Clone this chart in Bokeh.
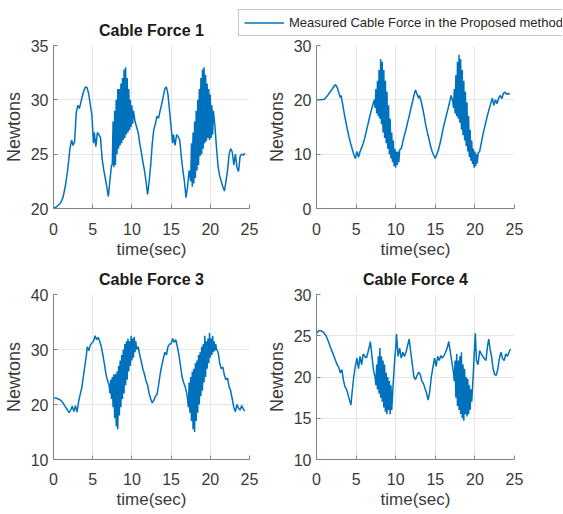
from bokeh.plotting import figure
from bokeh.layouts import row, column
from bokeh.models import Range1d, Legend, LegendItem, FixedTicker
from bokeh.embed import file_html
from bokeh.resources import INLINE

# ---------------- data (time [s], force [N]) ----------------
cable_force_1 = [
    (0, 20.1), (0.3, 20.1), (0.6, 20.3), (0.9, 20.5), (1.2, 21.0), (1.5, 22.0), (1.8, 23.5), (2.1, 25.5), (2.3, 26.3), (2.5, 25.8),
    (2.7, 26.2), (2.9, 28.8), (3.1, 29.5), (3.3, 29.2), (3.5, 29.8), (3.7, 30.4), (3.9, 30.9), (4.1, 31.2), (4.3, 31.1), (4.5, 30.5),
    (4.7, 29.5), (4.9, 28.6), (5.1, 26.0), (5.2, 27.0), (5.4, 25.7), (5.6, 27.0), (5.8, 26.8), (6.0, 26.5), (6.2, 24.6), (6.4, 23.6),
    (6.6, 22.8), (6.8, 22.0), (7.0, 21.1), (7.2, 22.6), (7.4, 24.0),
    (7.5, 24.0), (7.6, 28.0), (7.7, 23.8), (7.8, 29.0), (7.9, 24.0), (8.0, 30.0), (8.1, 25.0), (8.2, 31.0), (8.3, 25.5), (8.4, 31.0),
    (8.5, 25.8), (8.6, 31.5), (8.7, 26.0), (8.8, 32.0), (8.9, 26.3), (9.0, 32.8), (9.1, 26.5), (9.2, 33.0), (9.3, 26.8), (9.4, 32.0),
    (9.5, 27.0), (9.6, 31.0), (9.7, 27.2), (9.8, 30.0), (9.9, 27.5), (10.0, 29.5), (10.1, 27.8), (10.2, 29.0),
    (10.4, 28.0), (10.6, 27.5), (10.8, 27.0), (11.0, 26.0), (11.2, 25.2), (11.4, 24.3), (11.6, 23.5), (11.8, 22.5), (12.0, 21.3), (12.2, 22.5),
    (12.4, 24.0), (12.6, 26.0), (12.8, 27.3), (13.0, 27.8), (13.2, 28.5), (13.4, 28.3), (13.6, 29.0), (13.8, 29.6), (14.0, 30.3), (14.2, 31.0),
    (14.4, 31.2), (14.6, 30.5), (14.8, 29.0), (15.0, 27.5), (15.2, 26.0), (15.3, 26.8), (15.5, 25.8), (15.7, 26.8), (15.9, 26.6), (16.1, 26.3),
    (16.3, 24.8), (16.5, 23.5), (16.7, 22.5), (16.9, 21.0), (17.1, 22.0), (17.3, 23.5),
    (17.5, 22.5), (17.6, 26.0), (17.7, 22.0), (17.8, 27.0), (17.9, 22.3), (18.0, 28.0), (18.1, 22.8), (18.2, 29.0), (18.3, 23.5), (18.4, 30.0),
    (18.5, 24.0), (18.6, 31.0), (18.7, 24.8), (18.8, 32.0), (18.9, 25.0), (19.0, 32.8), (19.1, 25.5), (19.2, 33.0), (19.3, 26.0), (19.4, 32.3),
    (19.5, 26.2), (19.6, 31.5), (19.7, 26.5), (19.8, 31.0), (19.9, 26.3), (20.0, 30.5), (20.1, 26.5), (20.2, 29.5), (20.3, 26.8), (20.4, 29.0),
    (20.6, 27.5), (20.8, 25.5), (21.0, 23.8), (21.2, 23.0), (21.4, 22.5), (21.6, 22.0), (21.8, 21.6), (22.0, 22.5), (22.2, 23.5), (22.4, 25.0),
    (22.6, 25.5), (22.8, 25.2), (23.0, 24.0), (23.2, 25.0), (23.4, 23.8), (23.6, 23.4), (23.8, 24.8), (24.0, 25.0), (24.2, 24.9), (24.4, 25.1),
]

cable_force_2 = [
    (0, 20.0), (0.5, 20.0), (1.0, 20.1), (1.3, 20.6), (1.6, 21.2), (1.9, 21.8), (2.2, 22.5), (2.4, 22.8), (2.6, 22.3), (2.8, 21.4),
    (3.0, 20.4), (3.1, 20.8), (3.3, 19.2), (3.5, 17.5), (3.7, 16.0), (3.9, 14.5), (4.1, 13.2), (4.3, 12.0), (4.5, 11.0), (4.7, 10.0),
    (4.9, 9.2), (5.1, 10.5), (5.3, 9.4), (5.5, 10.5), (5.7, 11.2), (5.9, 12.0), (6.1, 13.0), (6.3, 14.3), (6.5, 15.5), (6.7, 16.8),
    (6.9, 18.0), (7.1, 19.0), (7.3, 20.0),
    (7.4, 18.5), (7.5, 22.0), (7.6, 17.5), (7.7, 23.5), (7.8, 17.0), (7.9, 25.5), (8.0, 16.5), (8.1, 27.5), (8.2, 15.5), (8.3, 27.0),
    (8.4, 14.0), (8.5, 25.5), (8.6, 13.0), (8.7, 23.5), (8.8, 12.0), (8.9, 21.5), (9.0, 11.0), (9.1, 19.0), (9.2, 10.0), (9.3, 16.5),
    (9.4, 9.2), (9.5, 14.0), (9.6, 8.5), (9.7, 12.5), (9.8, 7.8), (9.9, 11.0), (10.0, 7.5), (10.1, 10.5), (10.2, 8.0), (10.3, 10.5),
    (10.4, 8.5), (10.5, 10.8),
    (10.7, 11.0), (10.9, 12.3), (11.1, 13.5), (11.3, 14.5), (11.5, 15.8), (11.7, 17.0), (11.9, 18.3), (12.1, 19.5), (12.3, 20.8), (12.5, 21.8),
    (12.7, 21.0), (12.9, 20.3), (13.0, 20.8), (13.2, 19.8), (13.4, 18.5), (13.6, 17.0), (13.8, 15.3), (14.0, 14.0), (14.2, 12.8), (14.4, 11.5),
    (14.6, 10.5), (14.8, 9.8), (15.0, 9.2), (15.2, 10.0), (15.4, 10.8), (15.6, 12.0), (15.8, 13.3), (16.0, 14.8), (16.2, 16.0), (16.4, 17.2),
    (16.6, 18.3), (16.8, 19.5), (17.0, 20.8), (17.2, 19.8),
    (17.3, 18.5), (17.4, 22.0), (17.5, 17.5), (17.6, 24.5), (17.7, 17.0), (17.8, 27.0), (17.9, 16.5), (18.0, 28.3), (18.1, 15.8), (18.2, 27.5),
    (18.3, 14.5), (18.4, 25.5), (18.5, 13.5), (18.6, 23.5), (18.7, 12.5), (18.8, 21.5), (18.9, 11.5), (19.0, 19.5), (19.1, 10.5), (19.2, 17.0),
    (19.3, 9.5), (19.4, 14.5), (19.5, 8.8), (19.6, 12.5), (19.7, 8.2), (19.8, 11.0), (19.9, 7.5), (20.0, 10.5), (20.1, 7.8), (20.2, 10.0),
    (20.3, 8.3), (20.4, 10.2),
    (20.6, 10.5), (20.8, 12.0), (21.0, 13.5), (21.2, 14.8), (21.4, 16.0), (21.6, 17.2), (21.8, 18.3), (22.0, 19.3), (22.2, 20.3), (22.4, 19.0),
    (22.6, 20.0), (22.8, 19.3), (23.0, 20.3), (23.2, 20.8), (23.4, 20.2), (23.6, 21.2), (23.8, 21.4), (24.0, 21.0), (24.2, 21.2), (24.4, 21.0),
]

cable_force_3 = [
    (0, 21.2), (0.3, 21.2), (0.6, 21.0), (0.9, 20.8), (1.2, 20.3), (1.5, 19.6), (1.8, 19.0), (2.0, 18.5), (2.2, 19.0), (2.4, 19.7),
    (2.6, 18.7), (2.8, 19.8), (3.0, 18.6), (3.2, 20.5), (3.4, 21.8), (3.6, 23.0), (3.8, 25.0), (4.0, 27.0), (4.2, 29.0), (4.3, 30.5),
    (4.5, 29.8), (4.7, 30.8), (4.9, 31.2), (5.1, 31.5), (5.3, 32.5), (5.5, 31.8), (5.7, 32.2), (5.9, 31.5), (6.1, 30.5), (6.3, 29.0),
    (6.5, 27.3), (6.7, 25.5), (6.9, 24.3), (7.1, 23.5),
    (7.2, 22.0), (7.3, 24.5), (7.4, 21.0), (7.5, 25.0), (7.6, 19.5), (7.7, 25.5), (7.8, 17.5), (7.9, 25.5), (8.0, 16.0), (8.1, 26.0),
    (8.2, 15.5), (8.3, 27.0), (8.4, 18.0), (8.5, 28.0), (8.6, 19.5), (8.7, 29.0), (8.8, 21.0), (8.9, 30.0), (9.0, 22.0), (9.1, 31.0),
    (9.2, 23.5), (9.3, 31.5), (9.4, 24.5), (9.5, 32.0), (9.6, 26.0), (9.7, 31.5), (9.8, 27.0), (9.9, 32.5), (10.0, 28.0), (10.1, 32.0),
    (10.2, 28.5), (10.3, 32.3), (10.4, 29.5), (10.5, 31.5), (10.6, 30.0),
    (10.8, 30.5), (11.0, 29.0), (11.2, 27.8), (11.4, 26.5), (11.6, 25.5), (11.8, 24.3), (12.0, 23.5), (12.2, 22.0), (12.4, 21.0), (12.6, 20.3),
    (12.8, 20.8), (13.0, 21.5), (13.2, 21.8), (13.4, 23.5), (13.6, 25.5), (13.8, 27.0), (14.0, 28.3), (14.2, 29.5), (14.4, 29.0), (14.6, 30.5),
    (14.8, 31.0), (15.0, 31.0), (15.2, 32.0), (15.4, 31.3), (15.6, 31.8), (15.8, 30.5), (16.0, 29.0), (16.2, 27.0), (16.4, 25.0), (16.6, 24.0),
    (16.8, 23.2), (17.0, 22.0), (17.1, 21.0),
    (17.2, 19.5), (17.3, 24.0), (17.4, 18.5), (17.5, 25.0), (17.6, 17.0), (17.7, 26.0), (17.8, 15.5), (17.9, 26.5), (18.0, 15.0), (18.1, 27.5),
    (18.2, 17.0), (18.3, 28.0), (18.4, 18.5), (18.5, 29.0), (18.6, 20.0), (18.7, 29.5), (18.8, 21.5), (18.9, 30.5), (19.0, 22.5), (19.1, 31.0),
    (19.2, 24.0), (19.3, 32.5), (19.4, 25.0), (19.5, 31.5), (19.6, 26.5), (19.7, 32.0), (19.8, 27.5), (19.9, 33.0), (20.0, 28.5), (20.1, 32.0),
    (20.2, 29.0), (20.3, 32.5), (20.4, 29.5), (20.5, 31.5), (20.6, 29.8), (20.7, 31.0), (20.8, 30.0),
    (21.0, 29.5), (21.2, 27.5), (21.4, 26.5), (21.6, 26.8), (21.8, 25.3), (22.0, 24.5), (22.2, 24.8), (22.4, 23.2), (22.6, 22.5), (22.8, 21.0),
    (23.0, 19.5), (23.2, 18.7), (23.4, 20.0), (23.6, 19.3), (23.8, 19.0), (24.0, 19.8), (24.2, 19.2), (24.4, 18.8),
]

cable_force_4 = [
    (0, 25.3), (0.3, 25.6), (0.6, 25.6), (0.9, 25.4), (1.2, 25.0), (1.5, 24.3), (1.8, 23.5), (2.1, 22.8), (2.4, 22.0), (2.6, 21.5),
    (2.8, 21.2), (3.0, 20.5), (3.2, 20.9), (3.4, 19.6), (3.6, 18.8), (3.8, 18.5), (4.0, 17.8), (4.2, 17.1), (4.35, 16.6), (4.5, 18.2),
    (4.7, 20.0), (4.9, 21.3), (5.1, 22.3), (5.3, 21.0), (5.5, 22.5), (5.7, 21.5), (5.9, 22.8), (6.1, 22.5), (6.3, 22.3), (6.5, 23.0),
    (6.7, 23.8), (6.8, 24.3), (7.0, 22.5), (7.2, 20.8), (7.4, 20.0),
    (7.5, 19.0), (7.6, 21.5), (7.7, 18.5), (7.8, 22.5), (7.9, 18.0), (8.0, 23.5), (8.1, 17.5), (8.2, 22.5), (8.3, 17.0), (8.4, 22.0),
    (8.5, 16.3), (8.6, 21.5), (8.7, 15.8), (8.8, 20.5), (8.9, 15.5), (9.0, 20.0), (9.1, 16.0), (9.2, 19.5), (9.3, 15.5), (9.4, 19.0),
    (9.5, 16.0),
    (9.7, 19.5), (9.9, 22.5), (10.0, 23.5), (10.1, 25.2), (10.3, 22.5), (10.5, 23.5), (10.7, 22.3), (10.9, 23.0), (11.1, 22.5), (11.3, 23.0),
    (11.5, 23.8), (11.7, 24.6), (11.9, 23.0), (12.1, 21.5), (12.3, 20.0), (12.5, 19.7), (12.7, 20.2), (12.9, 20.6), (13.1, 20.3), (13.3, 19.5),
    (13.5, 19.2), (13.7, 18.6), (13.9, 18.0), (14.1, 17.2), (14.3, 18.3), (14.5, 20.0), (14.7, 21.2), (14.9, 22.3), (15.1, 21.3), (15.3, 22.5),
    (15.5, 22.0), (15.7, 22.6), (15.9, 22.3), (16.1, 22.6), (16.3, 23.0), (16.5, 23.5), (16.7, 24.3), (16.9, 23.0), (17.1, 21.8), (17.3, 20.5),
    (17.4, 19.5), (17.5, 22.0), (17.6, 17.5), (17.7, 22.8), (17.8, 16.5), (17.9, 22.0), (18.0, 16.0), (18.1, 22.5), (18.2, 15.5), (18.3, 23.0),
    (18.4, 15.0), (18.5, 21.5), (18.6, 14.7), (18.7, 21.0), (18.8, 15.5), (18.9, 20.0), (19.0, 15.2), (19.1, 19.8), (19.2, 15.5), (19.3, 19.0),
    (19.4, 16.0), (19.5, 18.5), (19.6, 17.0),
    (19.8, 20.5), (19.9, 22.5), (20.05, 25.3), (20.2, 22.0), (20.4, 21.5), (20.6, 23.2), (20.8, 22.8), (21.0, 22.5), (21.2, 22.2), (21.4, 22.0),
    (21.6, 23.8), (21.75, 24.6), (21.9, 23.5), (22.1, 22.5), (22.3, 21.0), (22.5, 20.3), (22.7, 20.2), (22.9, 21.0), (23.1, 22.3), (23.3, 23.0),
    (23.5, 22.2), (23.7, 22.0), (23.9, 22.8), (24.1, 22.5), (24.3, 23.0), (24.5, 23.4),
]

titles = ["Cable Force 1", None, "Cable Force 3", "Cable Force 4"]
y_limits = [(20, 35), (0, 30), (10, 40), (10, 30)]
y_tick_values = [[20, 25, 30, 35], [0, 10, 20, 30], [10, 20, 30, 40], [10, 15, 20, 25, 30]]
x_tick_values = [0, 5, 10, 15, 20, 25]
x_label = "time(sec)"
y_label = "Newtons"
legend_label = "Measured Cable Force in the Proposed method"

FONT = "Liberation Sans"
LINE = "#0072BD"
AXIS = "#808080"
TEXT = "#3a3a3a"


def make(series, idx, width, height, left, right, top, bottom, label_standoff, title_standoff):
    t = [p[0] for p in series]
    v = [p[1] for p in series]
    p = figure(width=width, height=height, x_range=Range1d(0, 25), y_range=Range1d(*y_limits[idx]),
               output_backend="svg", toolbar_location=None,
               min_border_left=left, min_border_right=right, min_border_top=top, min_border_bottom=bottom,
               title=titles[idx])
    r = p.line(t, v, line_color=LINE, line_width=1.5)
    if titles[idx]:
        p.title.align = "center"
        p.title.text_font = FONT
        p.title.text_font_size = "16px"
        p.title.text_font_style = "bold"
        p.title.text_color = "#1a1a1a"
        p.title.standoff = title_standoff
    for ax in (p.xaxis[0], p.yaxis[0]):
        ax.axis_line_color = AXIS
        ax.major_tick_line_color = AXIS
        ax.major_tick_in = 4
        ax.major_tick_out = 0
        ax.minor_tick_line_color = None
        ax.major_label_text_font = FONT
        ax.major_label_text_font_size = "16px"
        ax.major_label_text_color = TEXT
        ax.axis_label_text_font = FONT
        ax.axis_label_text_font_style = "normal"
        ax.axis_label_text_color = TEXT
    p.xaxis.ticker = FixedTicker(ticks=x_tick_values)
    p.yaxis.ticker = FixedTicker(ticks=y_tick_values[idx])
    p.xaxis.axis_label = x_label
    p.yaxis.axis_label = y_label
    p.xaxis.axis_label_text_font_size = "17px"
    p.yaxis.axis_label_text_font_size = "18px"
    p.xaxis.major_label_standoff = label_standoff
    p.xaxis.axis_label_standoff = 2
    p.yaxis.major_label_standoff = 5
    p.yaxis.axis_label_standoff = 4
    p.grid.grid_line_color = "#e6e6e6"
    p.outline_line_color = None
    p.border_fill_color = None
    p.background_fill_color = "white"
    return p, r


f1, _ = make(cable_force_1, 0, 262, 262, 52, 13, 45, 54, 14, 14)
f2, _ = make(cable_force_2, 1, 300, 262, 54, 48, 45, 54, 14, 14)
f3, _ = make(cable_force_3, 2, 262, 250, 52, 13, 32, 53, 13, 13)
f4, _ = make(cable_force_4, 3, 300, 250, 54, 48, 32, 53, 13, 13)

# legend strip: its own small canvas that sits behind the top row;
# its line renderer lies outside its (tiny) ranges so only the legend shows
legend_t = [p[0] for p in cable_force_2]
legend_v = [p[1] for p in cable_force_2]
lg = figure(width=325, height=28, x_range=Range1d(-2, -1), y_range=Range1d(-2, -1),
            x_axis_type=None, y_axis_type=None, output_backend="svg", toolbar_location=None,
            min_border=0, min_border_left=0, min_border_right=0, min_border_top=0, min_border_bottom=0)
lg.grid.visible = False
lg.outline_line_color = None
lg.border_fill_color = None
lg.background_fill_color = None
sample = lg.line(legend_t, legend_v, line_color=LINE, line_width=1.5)
legend = Legend(items=[LegendItem(label=legend_label, renderers=[sample])], location="top_left",
                orientation="vertical", padding=5, margin=1, spacing=0,
                glyph_width=40, glyph_height=15, label_height=15, label_standoff=5,
                label_text_font=FONT, label_text_font_size="13px", label_text_color="#262626",
                border_line_color="#8c8c8c", border_line_width=1,
                background_fill_color="white", background_fill_alpha=1.0)
lg.add_layout(legend)
lg.margin = (8, 0, -36, 237)

page = column(lg, row(f1, f2), row(f3, f4))
open("out.html", "w").write(file_html(page, INLINE))
